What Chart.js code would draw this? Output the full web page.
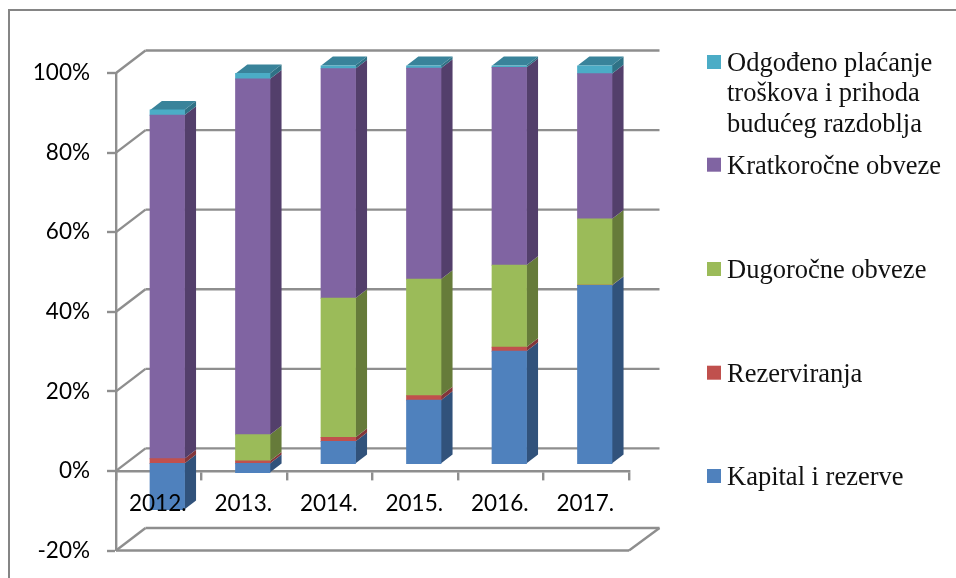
<!DOCTYPE html>
<html>
<head>
<meta charset="utf-8">
<script src="https://cdn.jsdelivr.net/npm/chart.js@4"></script>
<style>
  html, body { margin: 0; padding: 0; background: #fff; }
  canvas { display: block; }
</style>
</head>
<body>
<canvas id="chart" width="956" height="578"></canvas>
<script>
// Podaci procitani sa slike (% pasive)
const categories = ["2012.", "2013.", "2014.", "2015.", "2016.", "2017."];
const kapital = [-11.6, -2.3, 5.5, 15.9, 28.2, 44.7];
const rezerviranja = [1.2, 0.6, 1.0, 1.1, 1.0, 0.1];
const dugorocne = [0, 6.6, 35.0, 29.3, 20.6, 16.6];
const kratkorocne = [86.3, 89.4, 57.7, 53.0, 49.7, 36.5];
const odgodeno = [1.3, 1.4, 0.8, 0.7, 0.5, 2.1];

// Legenda ide odozgo prema dolje, kao na slici
const legendLines = [
  ["Odgođeno plaćanje", "troškova i prihoda", "budućeg razdoblja"],
  ["Kratkoročne obveze"],
  ["Dugoročne obveze"],
  ["Rezerviranja"],
  ["Kapital i rezerve"]
];
const legendColors = ["#4BACC6", "#8064A2", "#9BBB59", "#C0504D", "#4F81BD"];
const legendBaselines = [71, 173.7, 278, 381.7, 485];

const gridColor = "#8e8e8e";
const wallDx = 29.5, wallDy = 22.5;   // pomak straznjeg zida
const barShiftX = 8.5, barShiftY = 7.5; // stupci stoje u sredini dubine
const barDepthX = 11.7, barDepthY = 9;

const sideColors = ["#31527B", "#83363A", "#667B3A", "#533F6B", "#2F7286"];
const capColor = "#39839A";

function poly(ctx, pts, color) {
  ctx.fillStyle = color;
  ctx.beginPath();
  pts.forEach((p, i) => i ? ctx.lineTo(p[0], p[1]) : ctx.moveTo(p[0], p[1]));
  ctx.closePath();
  ctx.fill();
}

function line(ctx, x1, y1, x2, y2) {
  ctx.beginPath();
  ctx.moveTo(x1, y1);
  ctx.lineTo(x2, y2);
  ctx.stroke();
}

// Okvir, zidovi i legenda
const wallsPlugin = {
  id: "walls",
  beforeDraw(chart) {
    const ctx = chart.ctx, y = chart.scales.y, a = chart.chartArea;
    ctx.save();
    ctx.strokeStyle = "#858585";
    ctx.lineWidth = 2;
    line(ctx, 9, 10, 956, 10);
    line(ctx, 9, 9, 9, 578);

    ctx.strokeStyle = gridColor;
    ctx.lineWidth = 2.4;
    y.ticks.forEach(t => {
      const py = y.getPixelForValue(t.value);
      line(ctx, a.left, py, a.left + wallDx, py - wallDy);
      line(ctx, a.left + wallDx, py - wallDy, a.right + wallDx + 1, py - wallDy);
    });
    // donja ploha
    const py = y.getPixelForValue(-20);
    line(ctx, a.left, py, a.right, py);
    line(ctx, a.right, py, a.right + wallDx + 1, py - wallDy);

    ctx.font = "26.5px 'Liberation Serif'";
    ctx.textBaseline = "alphabetic";
    legendLines.forEach((lines, i) => {
      const base = legendBaselines[i];
      ctx.fillStyle = legendColors[i];
      ctx.fillRect(707, base - 16, 14, 14);
      ctx.fillStyle = "#111";
      lines.forEach((txt, k) => ctx.fillText(txt, 727, base + k * 30.4));
    });
    ctx.restore();
  },
  beforeDatasetsDraw(chart) {
    const ctx = chart.ctx;
    ctx.save();
    ctx.translate(barShiftX, -barShiftY);
    // bocne strane i gornja ploha, prednje strane crta Chart.js
    categories.forEach((c, j) => {
      let top = null;
      chart.data.datasets.forEach((ds, i) => {
        const el = chart.getDatasetMeta(i).data[j];
        const p = el.getProps(["x", "y", "base", "width"], true);
        if (ds.data[j] === 0) return;
        const r = p.x + p.width / 2;
        poly(ctx, [
          [r, p.y], [r + barDepthX, p.y - barDepthY],
          [r + barDepthX, p.base - barDepthY], [r, p.base]
        ], sideColors[i]);
        if (ds.data[j] > 0) top = p;
      });
      if (top) {
        const l = top.x - top.width / 2, r = top.x + top.width / 2;
        poly(ctx, [
          [l, top.y], [r, top.y],
          [r + barDepthX, top.y - barDepthY], [l + barDepthX, top.y - barDepthY]
        ], capColor);
      }
    });
  },
  afterDatasetsDraw(chart) {
    chart.ctx.restore();
  }
};

const tickFont = { family: "Lato", size: 22.5 };

new Chart(document.getElementById("chart"), {
  type: "bar",
  data: {
    labels: categories,
    datasets: [
      { label: "Kapital i rezerve", data: kapital, backgroundColor: "#4F81BD", inflateAmount: 0.5 },
      { label: "Rezerviranja", data: rezerviranja, backgroundColor: "#C0504D", inflateAmount: 0.5 },
      { label: "Dugoročne obveze", data: dugorocne, backgroundColor: "#9BBB59", inflateAmount: 0.5 },
      { label: "Kratkoročne obveze", data: kratkorocne, backgroundColor: "#8064A2", inflateAmount: 0.5 },
      { label: "Odgođeno plaćanje troškova i prihoda budućeg razdoblja", data: odgodeno, backgroundColor: "#4BACC6", inflateAmount: 0.5 }
    ]
  },
  options: {
    responsive: false,
    animation: false,
    categoryPercentage: 1,
    barPercentage: 0.4,
    layout: { padding: { top: 73, right: 327, bottom: 27.5, left: 0 } },
    plugins: { legend: { display: false }, tooltip: { enabled: false } },
    scales: {
      x: {
        stacked: true,
        position: { y: 0 },
        afterFit: s => { s.height = 0; s.paddingBottom = 0; },
        grid: { drawOnChartArea: false, tickLength: 8, tickColor: gridColor, lineWidth: 2.4 },
        border: { color: gridColor, width: 2.4 },
        ticks: { font: tickFont, color: "#000", padding: 11.5, labelOffset: -1, maxRotation: 0, autoSkip: false, z: 1 }
      },
      y: {
        stacked: true,
        min: -20,
        max: 100,
        afterFit: s => { s.width = 116; s.paddingTop = 0; s.paddingBottom = 0; },
        // lineWidth 0 da Chart.js ne odmice stupce od nulte linije
        grid: { drawOnChartArea: false, tickLength: 9, tickColor: gridColor, lineWidth: 0, tickWidth: 2.4 },
        border: { color: gridColor, width: 2.4 },
        ticks: { stepSize: 20, font: tickFont, color: "#000", padding: 17, callback: v => v + "%" }
      }
    }
  },
  plugins: [wallsPlugin]
});
</script>
</body>
</html>
